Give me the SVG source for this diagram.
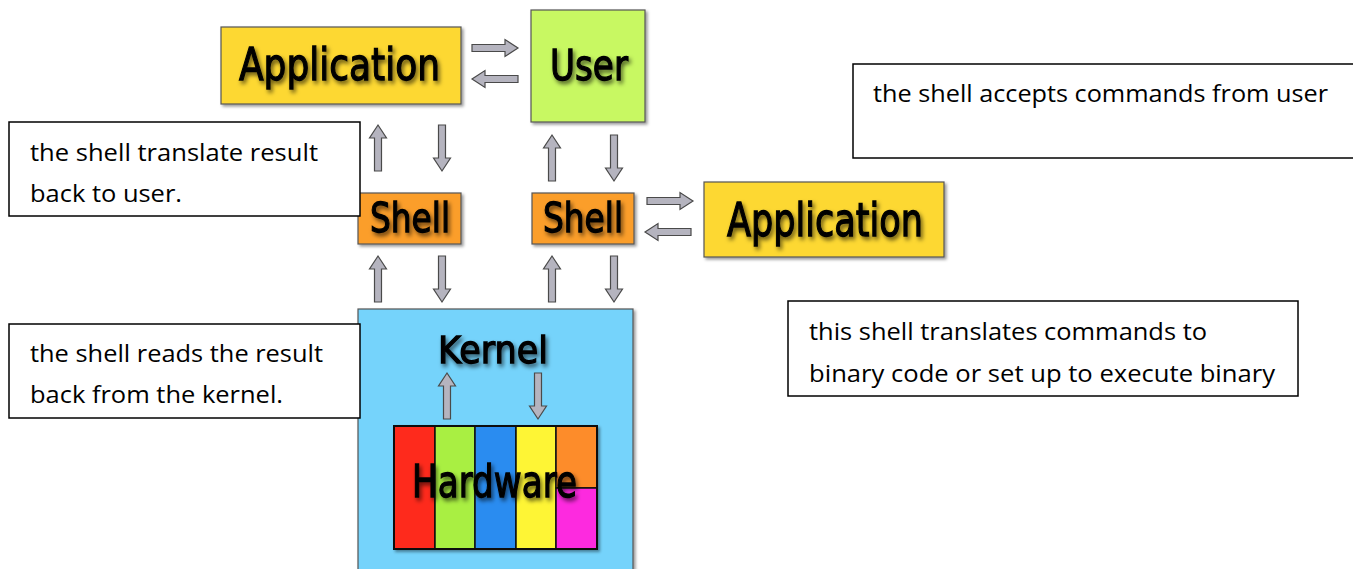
<svg xmlns="http://www.w3.org/2000/svg" xmlns:xlink="http://www.w3.org/1999/xlink" width="1353" height="569" viewBox="0 0 1353 569">
<defs>
<style>
.box{stroke:#555;stroke-width:1.2;filter:url(#bs)}
.lbl{font-family:"DejaVu Sans",sans-serif;fill:#000;stroke:#000;stroke-width:1.3;text-anchor:middle;filter:url(#ts)}
.arr{fill:#b5b4bf;stroke:#4a4a4a;stroke-width:1.2;stroke-linejoin:miter}
.call{fill:#fff;stroke:#000;stroke-width:1.5}
.ct{font-family:"Open Sans","Noto Sans",sans-serif;font-size:24px;fill:#000}
.hw{stroke:#111;stroke-width:1.5}
</style>
<filter id="bs" x="-10%" y="-10%" width="130%" height="130%"><feDropShadow dx="2" dy="2" stdDeviation="1.5" flood-color="#000" flood-opacity="0.4"/></filter>
<filter id="ts" x="-10%" y="-20%" width="130%" height="150%"><feDropShadow dx="2" dy="3" stdDeviation="2" flood-color="#000" flood-opacity="0.6"/></filter>
<path id="arr" class="arr" d="M0,0 L8.5,13 L3.5,13 L3.5,46 L-3.5,46 L-3.5,13 L-8.5,13 Z"/>
</defs>
<rect width="1353" height="569" fill="#fff"/>

<g id="kernel">
<rect class="box" x="358" y="309" width="275" height="275" fill="#74d3fb"/>
<text class="lbl" x="493" y="363" font-size="38" textLength="110" lengthAdjust="spacingAndGlyphs">Kernel</text>
</g>

<g id="hardware">
<g filter="url(#bs)">
<rect x="394" y="426" width="41" height="123" fill="#fe2b1f" class="hw"/>
<rect x="435" y="426" width="40" height="123" fill="#a9ef42" class="hw"/>
<rect x="475" y="426" width="41" height="123" fill="#2a8cf0" class="hw"/>
<rect x="516" y="426" width="40" height="123" fill="#fef535" class="hw"/>
<rect x="556" y="426" width="41" height="62" fill="#fd8c2b" class="hw"/>
<rect x="556" y="488" width="41" height="61" fill="#fd2bdf" class="hw"/>
<rect x="394" y="426" width="203" height="123" fill="none" stroke="#111" stroke-width="2"/>
</g>
<text class="lbl" x="494.5" y="497" font-size="44" textLength="165" lengthAdjust="spacingAndGlyphs">Hardware</text>
</g>

<g id="app-top">
<rect class="box" x="221" y="27" width="240" height="77" fill="#fdd833"/>
<text class="lbl" x="339.5" y="80" font-size="45" textLength="201" lengthAdjust="spacingAndGlyphs">Application</text>
</g>

<g id="user">
<rect class="box" x="531" y="10" width="114" height="112" fill="#c8f862"/>
<text class="lbl" x="589" y="80" font-size="43" textLength="78" lengthAdjust="spacingAndGlyphs">User</text>
</g>

<g id="shell-left">
<rect class="box" x="358" y="193" width="103" height="51" fill="#fb9e2c"/>
<text class="lbl" x="410" y="232" font-size="40" textLength="80" lengthAdjust="spacingAndGlyphs">Shell</text>
</g>

<g id="shell-right">
<rect class="box" x="532" y="193" width="102" height="51" fill="#fb9e2c"/>
<text class="lbl" x="583" y="232" font-size="40" textLength="80" lengthAdjust="spacingAndGlyphs">Shell</text>
</g>

<g id="app-right">
<rect class="box" x="704" y="182" width="240" height="75" fill="#fdd833"/>
<text class="lbl" x="825" y="236" font-size="46" textLength="196" lengthAdjust="spacingAndGlyphs">Application</text>
</g>

<g id="connectors">
<use xlink:href="#arr" transform="translate(518,48) rotate(90)"/>
<use xlink:href="#arr" transform="translate(472,79) rotate(-90)"/>
<use xlink:href="#arr" transform="translate(693,201) rotate(90)"/>
<use xlink:href="#arr" transform="translate(645,232) rotate(-90)"/>
<use xlink:href="#arr" transform="translate(378,125)"/>
<use xlink:href="#arr" transform="translate(442,171) rotate(180)"/>
<use xlink:href="#arr" transform="translate(552,135)"/>
<use xlink:href="#arr" transform="translate(614,181) rotate(180)"/>
<use xlink:href="#arr" transform="translate(378,256)"/>
<use xlink:href="#arr" transform="translate(442,302) rotate(180)"/>
<use xlink:href="#arr" transform="translate(552,256)"/>
<use xlink:href="#arr" transform="translate(614,302) rotate(180)"/>
<use xlink:href="#arr" transform="translate(447,373)"/>
<use xlink:href="#arr" transform="translate(538,419) rotate(180)"/>
</g>

<g id="note-translate">
<rect class="call" x="9" y="122" width="351" height="94"/>
<text class="ct" x="30" y="161" textLength="288" lengthAdjust="spacingAndGlyphs">the shell translate result</text>
<text class="ct" x="30" y="202" textLength="152" lengthAdjust="spacingAndGlyphs">back to user.</text>
</g>

<g id="note-reads">
<rect class="call" x="9" y="324" width="351" height="94"/>
<text class="ct" x="30" y="362" textLength="293" lengthAdjust="spacingAndGlyphs">the shell reads the result</text>
<text class="ct" x="30" y="403" textLength="253" lengthAdjust="spacingAndGlyphs">back from the kernel.</text>
</g>

<g id="note-accepts">
<rect class="call" x="853" y="64" width="510" height="94"/>
<text class="ct" x="873" y="102" textLength="455" lengthAdjust="spacingAndGlyphs">the shell accepts commands from user</text>
</g>

<g id="note-binary">
<rect class="call" x="788" y="301" width="510" height="95"/>
<text class="ct" x="809" y="340" textLength="398" lengthAdjust="spacingAndGlyphs">this shell translates commands to</text>
<text class="ct" x="809" y="382" textLength="466" lengthAdjust="spacingAndGlyphs">binary code or set up to execute binary</text>
</g>
</svg>
